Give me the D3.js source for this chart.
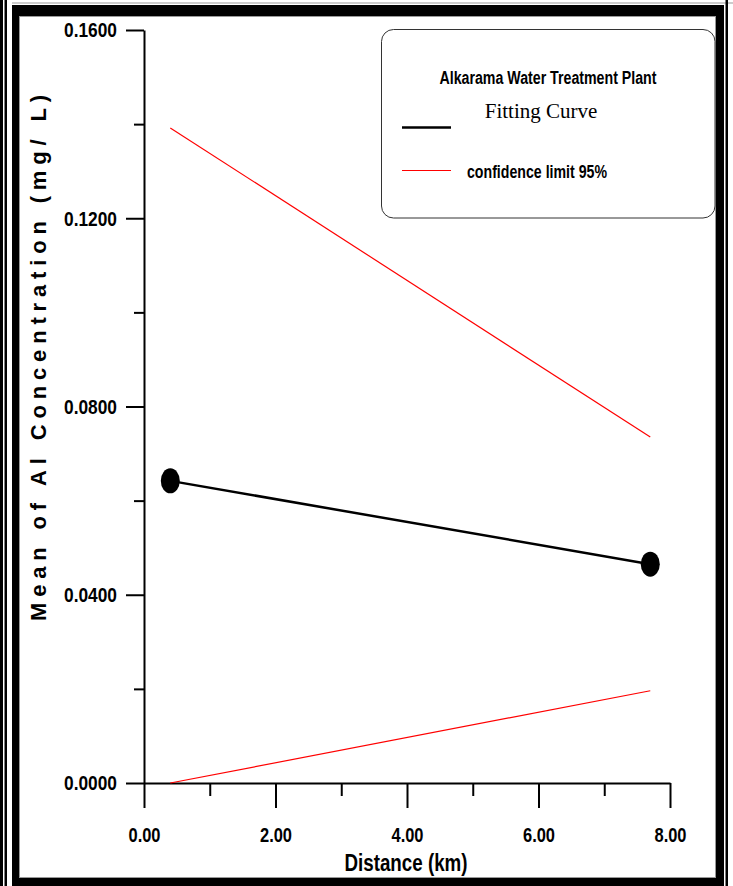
<!DOCTYPE html>
<html>
<head>
<meta charset="utf-8">
<script src="https://cdn.jsdelivr.net/npm/d3@7"></script>
<style>
  body { margin: 0; background: #fff; }
  .narrow { font-family: "Liberation Sans", Arial, sans-serif; font-weight: bold; }
</style>
</head>
<body>
<svg id="chart" width="733" height="886"></svg>
<script>
// data
let fitDistance = [0.4, 7.7];
let fitMean = [0.0642, 0.0465];
let upperLimit = [0.1392, 0.0735];
let lowerLimit = [0.0, 0.0196];

let xMajor = [0, 2, 4, 6, 8];
let xMinor = [1, 3, 5, 7];
let yMajor = [0, 0.04, 0.08, 0.12, 0.16];
let yMinor = [0.02, 0.06, 0.10, 0.14];

let legendTitle = "Alkarama Water Treatment Plant";
let legendFit = "Fitting Curve";
let legendLimit = "confidence limit 95%";

let svg = d3.select("#chart");

// outer frame
let frame = svg.append("g").attr("class", "frame");
frame.append("rect").attr("x", 0).attr("y", 0).attr("width", 3).attr("height", 886).attr("fill", "#000");
frame.append("rect").attr("x", 4.5).attr("y", 0).attr("width", 2.5).attr("height", 886).attr("fill", "#000");
frame.append("line").attr("x1", 12).attr("x2", 733).attr("y1", 3).attr("y2", 3).attr("stroke", "#999").attr("stroke-width", 1);
frame.append("rect").attr("x", 12).attr("y", 5).attr("width", 7).attr("height", 881).attr("fill", "#000");
frame.append("rect").attr("x", 12).attr("y", 5).attr("width", 712).attr("height", 11).attr("fill", "#000");
frame.append("rect").attr("x", 716).attr("y", 5).attr("width", 8).attr("height", 881).attr("fill", "#000");
frame.append("rect").attr("x", 12).attr("y", 878).attr("width", 712).attr("height", 8).attr("fill", "#000");
frame.append("rect").attr("x", 725.5).attr("y", 0).attr("width", 2.5).attr("height", 886).attr("fill", "#000");
frame.append("rect").attr("x", 19.5).attr("y", 16.5).attr("width", 696).attr("height", 861)
  .attr("fill", "none").attr("stroke", "#999").attr("stroke-width", 1);

// scales
let x = d3.scaleLinear().domain([0, 8]).range([144, 670]);
let y = d3.scaleLinear().domain([0, 0.16]).range([783, 30]);

// x axis
svg.append("g")
  .attr("class", "x axis")
  .attr("transform", "translate(0,783)")
  .call(d3.axisBottom(x).tickValues(xMajor).tickSize(25).tickSizeOuter(0).tickPadding(20)
    .tickFormat(d3.format(".2f")));
svg.append("g")
  .attr("transform", "translate(0,783)")
  .call(d3.axisBottom(x).tickValues(xMinor).tickSize(13).tickSizeOuter(0).tickFormat(""))
  .select(".domain").remove();

// y axis
svg.append("g")
  .attr("class", "y axis")
  .attr("transform", "translate(144,0)")
  .call(d3.axisLeft(y).tickValues(yMajor).tickSize(18).tickSizeOuter(0).tickPadding(9)
    .tickFormat(d3.format(".4f")));
svg.append("g")
  .attr("transform", "translate(144,0)")
  .call(d3.axisLeft(y).tickValues(yMinor).tickSize(10).tickSizeOuter(0).tickFormat(""))
  .select(".domain").remove();

svg.selectAll(".domain, .tick line")
  .attr("stroke", "#000")
  .attr("stroke-width", 2);

// condensed look: squeeze the bold glyphs to the widths in the picture
svg.selectAll(".tick text")
  .attr("class", "narrow")
  .attr("fill", "#000")
  .attr("lengthAdjust", "spacingAndGlyphs")
  .style("font-size", "20px");
svg.selectAll(".x.axis .tick text").attr("textLength", 32);
svg.selectAll(".y.axis .tick text").attr("textLength", 53).attr("dy", "0.34em");

// axis titles
svg.append("text")
  .attr("class", "narrow")
  .attr("x", 406)
  .attr("y", 871)
  .attr("text-anchor", "middle")
  .attr("textLength", 123)
  .attr("lengthAdjust", "spacingAndGlyphs")
  .style("font-size", "23px")
  .text("Distance (km)");

svg.append("text")
  .attr("transform", "translate(46,358) rotate(-90)")
  .attr("text-anchor", "middle")
  .attr("textLength", 526)
  .attr("lengthAdjust", "spacing")
  .style("font-family", "'Liberation Sans', Arial, sans-serif")
  .style("font-weight", "bold")
  .style("font-size", "22px")
  .text("Mean of Al Concentration (mg/ L)");

// confidence limits
let line = d3.line()
  .x((d) => x(d[0]))
  .y((d) => y(d[1]));

[upperLimit, lowerLimit].forEach(function(lim) {
  svg.append("path")
    .datum(fitDistance.map((d, i) => [d, lim[i]]))
    .attr("d", line)
    .attr("fill", "none")
    .attr("stroke", "#ff0000")
    .attr("stroke-width", 1.2);
});

// fitting curve
let fitData = fitDistance.map((d, i) => [d, fitMean[i]]);
svg.append("path")
  .datum(fitData)
  .attr("d", line)
  .attr("fill", "none")
  .attr("stroke", "#000")
  .attr("stroke-width", 2.5);

svg.selectAll(".point")
  .data(fitData)
.enter().append("ellipse")
  .attr("class", "point")
  .attr("cx", (d) => x(d[0]))
  .attr("cy", (d) => y(d[1]))
  .attr("rx", 9.5)
  .attr("ry", 12.5)
  .attr("fill", "#000");

// legend
let legend = svg.append("g");
legend.append("rect")
  .attr("x", 381.5).attr("y", 29.5)
  .attr("width", 333.5).attr("height", 188.5)
  .attr("rx", 12).attr("ry", 12)
  .attr("fill", "#fff")
  .attr("stroke", "#333")
  .attr("stroke-width", 1);
legend.append("text")
  .attr("class", "narrow")
  .attr("x", 548).attr("y", 84)
  .attr("text-anchor", "middle")
  .attr("textLength", 217)
  .attr("lengthAdjust", "spacingAndGlyphs")
  .style("font-size", "18px")
  .text(legendTitle);
legend.append("text")
  .attr("x", 541).attr("y", 118)
  .attr("text-anchor", "middle")
  .style("font-family", "'Liberation Serif', 'Times New Roman', serif")
  .style("font-size", "21px")
  .text(legendFit);
legend.append("line")
  .attr("x1", 402).attr("x2", 451).attr("y1", 127.5).attr("y2", 127.5)
  .attr("stroke", "#000").attr("stroke-width", 2.5);
legend.append("line")
  .attr("x1", 402).attr("x2", 451).attr("y1", 170.5).attr("y2", 170.5)
  .attr("stroke", "#ff0000").attr("stroke-width", 1);
legend.append("text")
  .attr("class", "narrow")
  .attr("x", 467).attr("y", 178)
  .attr("textLength", 140)
  .attr("lengthAdjust", "spacingAndGlyphs")
  .style("font-size", "18px")
  .text(legendLimit);
</script>
</body>
</html>
